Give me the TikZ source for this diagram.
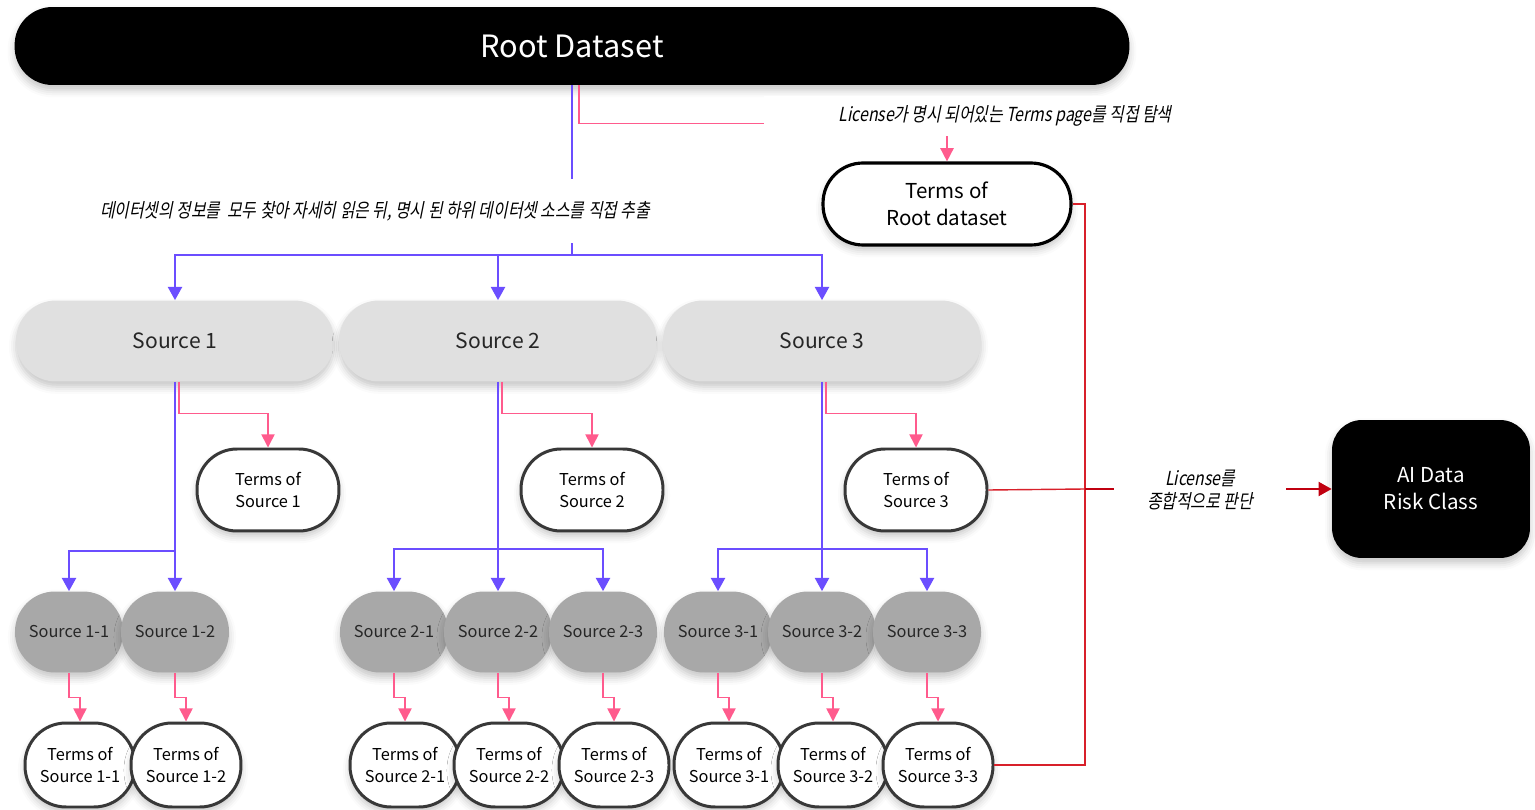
\documentclass[tikz,border=0pt]{standalone}
\usepackage{fontspec}
\setmainfont{Noto Sans CJK KR}
\newfontfamily\krit{Noto Sans CJK KR}[FakeSlant=0.2,FakeStretch=0.82]
\usetikzlibrary{arrows.meta,shadows.blur}
\definecolor{blueline}{HTML}{6B4EFF}
\definecolor{pinkline}{HTML}{FF5B8D}
\definecolor{redline}{HTML}{D8202A}
\definecolor{darkred}{HTML}{C00010}
\definecolor{srcgray}{HTML}{E0E0E0}
\definecolor{subgray}{HTML}{A8A8A8}
\definecolor{edgegray}{HTML}{383838}
\tikzset{
  softshadow/.style={blur shadow={shadow xshift=0pt,shadow yshift=-3pt,shadow blur radius=4pt,shadow opacity=22}},
  rootbox/.style={fill=black,text=white,minimum width=22.3cm,minimum height=1.56cm,rounded corners=0.76cm,
    font=\fontsize{17.5}{20}\selectfont,softshadow},
  termsbig/.style={fill=white,draw=black,line width=1.8pt,minimum width=4.96cm,minimum height=1.64cm,
    rounded corners=0.8cm,align=center,font=\fontsize{11.7}{15.3}\selectfont,softshadow},
  srcbox/.style={fill=srcgray,text=black!85,minimum width=6.36cm,minimum height=1.62cm,rounded corners=0.8cm,
    font=\fontsize{12}{14}\selectfont,softshadow},
  termsbox/.style={fill=white,draw=edgegray,line width=1.7pt,minimum width=2.84cm,minimum height=1.64cm,
    rounded corners=0.8cm,align=center,font=\fontsize{9.3}{13}\selectfont,softshadow},
  subbox/.style={fill=subgray,text=black!85,minimum width=2.16cm,minimum height=1.62cm,rounded corners=0.8cm,
    font=\fontsize{9.3}{11}\selectfont,softshadow},
  termssub/.style={fill=white,draw=edgegray,line width=1.7pt,minimum width=2.2cm,minimum height=1.68cm,
    rounded corners=0.82cm,align=center,font=\fontsize{9.3}{13}\selectfont,softshadow},
  riskbox/.style={fill=black,text=white,minimum width=3.96cm,minimum height=2.76cm,rounded corners=0.6cm,
    align=center,font=\fontsize{11.7}{15.3}\selectfont,softshadow},
  lbl/.style={align=center,font=\krit\fontsize{11}{13.6}\selectfont},
  bluelink/.style={draw=blueline,line width=1.1pt},
  bluearrow/.style={bluelink,-{Triangle[width=8pt,length=7.5pt]}},
  pinkarrow/.style={draw=pinkline,line width=0.9pt,-{Triangle[width=7.5pt,length=7.5pt]}},
  redlink/.style={draw=redline,line width=0.8pt},
  redarrow/.style={draw=darkred,line width=1.2pt,-{Triangle[width=8pt,length=7.5pt]}},
}
\begin{document}
\begin{tikzpicture}[x=0.02cm,y=-0.02cm]
  \useasboundingbox (0,0) rectangle (1535,810);

  \node[rootbox] (root) at (572,46) {Root Dataset};
  \node[termsbig] (troot) at (947,204) {Terms of\\Root dataset};

  \node[srcbox] (src1) at (175,341) {Source 1};
  \node[srcbox] (src2) at (498,341) {Source 2};
  \node[srcbox] (src3) at (822,341) {Source 3};

  \node[termsbox] (tsrc1) at (268,490) {Terms of\\Source 1};
  \node[termsbox] (tsrc2) at (592,490) {Terms of\\Source 2};
  \node[termsbox] (tsrc3) at (916,490) {Terms of\\Source 3};

  \foreach \a/\b/\x in {1/1/69,1/2/175,2/1/394,2/2/498,2/3/603,3/1/718,3/2/822,3/3/927} {
    \node[subbox] (sub\a\b) at (\x,632) {Source \a-\b};
    \node[termssub] (tsub\a\b) at (\x+11,765) {Terms of\\Source \a-\b};
    \draw[pinkarrow] (sub\a\b.south) |- ([yshift=0.48cm]tsub\a\b.north) -- (tsub\a\b.north);
  }

  \node[riskbox] (risk) at (1431,489) {AI Data\\Risk Class};

  % root -> sources
  \coordinate (fork) at (572,255);
  \draw[bluelink] (root.south) -- (fork);
  \foreach \i in {1,2,3}
    \draw[bluearrow] (fork) -| (src\i.north);
  \node[lbl,fill=white,inner ysep=0.45cm] (lblsplit) at (375,211) {데이터셋의 정보를 \ 모두 찾아 자세히 읽은 뒤, 명시 된 하위 데이터셋 소스를 직접 추출};

  % root -> terms
  \draw[pinkarrow] ([xshift=0.14cm]root.south) |- ([yshift=0.76cm]troot.north) -- (troot.north);
  \node[lbl,fill=white,inner xsep=1.5cm,inner ysep=0.2cm] (lblterms) at (1005,116) {License가 명시 되어있는 Terms page를 직접 탐색};

  % sources -> terms
  \foreach \i in {1,2,3}
    \draw[pinkarrow] ([xshift=0.08cm]src\i.south) |- ([yshift=0.68cm]tsrc\i.north) -- (tsrc\i.north);

  % sources -> sub sources
  \coordinate (fork1) at (175,551);
  \coordinate (fork2) at (498,549);
  \coordinate (fork3) at (822,549);
  \draw[bluelink] (src1.south) -- (fork1);
  \draw[bluearrow] (fork1) -| (sub11.north);
  \draw[bluearrow] (fork1) -- (sub12.north);
  \foreach \i in {2,3} {
    \draw[bluelink] (src\i.south) -- (fork\i);
    \foreach \j in {1,2,3}
      \draw[bluearrow] (fork\i) -| (sub\i\j.north);
  }

  % terms -> risk class
  \coordinate (merge) at (1085,489);
  \draw[redlink] (troot.east) -| (merge);
  \draw[redlink] (tsub33.east) -| (merge);
  \draw[redlink] (tsrc3.east) -- (merge);
  \draw[redarrow] (merge) -- (risk.west);
  \node[lbl,fill=white,minimum width=3.44cm,minimum height=1.5cm] (lbljudge) at (1200,490) {License를\\종합적으로 판단};
\end{tikzpicture}
\end{document}
